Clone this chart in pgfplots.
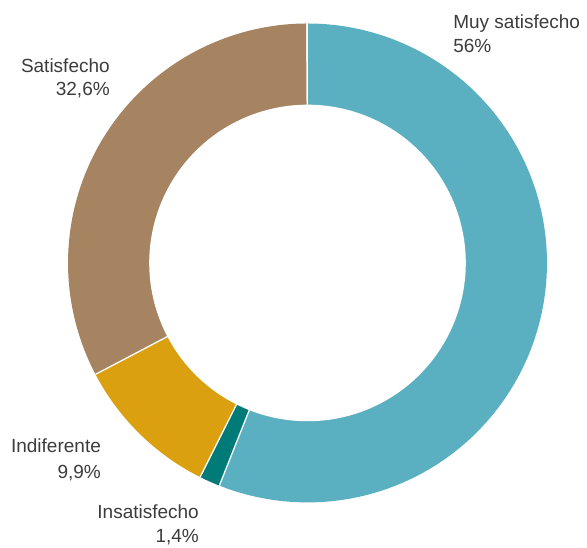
\documentclass[border=0pt]{standalone}
\usepackage{fontspec}
\setmainfont{Liberation Sans}
\usepackage{pgfplots}
\usepackage{pgfplotstable}
\pgfplotsset{compat=1.18}

\definecolor{muy}{HTML}{5AAFC1}
\definecolor{insat}{HTML}{017B78}
\definecolor{indif}{HTML}{DAA00F}
\definecolor{satis}{HTML}{A68461}
\definecolor{txt}{HTML}{3C3C3C}

% share of answers, clockwise from the top
\pgfplotstableread{
value color
56   muy
1.4  insat
9.9  indif
32.6 satis
}\slices

\begin{document}
\begin{tikzpicture}
  \begin{axis}[
    name=ax,
    width=587pt, height=547pt,
    scale only axis,
    hide axis,
    clip=false,
    xmin=-1.284, xmax=1.167,
    ymin=-1.186, ymax=1.098,
  ]
    % sectors
    \pgfmathsetmacro\cum{0}
    \pgfplotsforeachungrouped \i in {0,...,3} {
      \pgfplotstablegetelem{\i}{value}\of\slices
      \let\v=\pgfplotsretval
      \pgfplotstablegetelem{\i}{color}\of\slices
      \let\c=\pgfplotsretval
      \pgfmathsetmacro\aS{90-3.6*\cum}
      \pgfmathsetmacro\cum{\cum+\v}
      \pgfmathsetmacro\aE{90-3.6*\cum}
      \edef\tmp{\noexpand\addplot[fill=\c, draw=none, domain=\aE:\aS, samples=90]
        ({cos(x)},{sin(x)}) -- (axis cs:0,0) -- cycle;}
      \tmp
    }
    % white separators
    \pgfmathsetmacro\cum{0}
    \pgfplotsforeachungrouped \i in {0,...,3} {
      \pgfplotstablegetelem{\i}{value}\of\slices
      \let\v=\pgfplotsretval
      \pgfmathsetmacro\a{90-3.6*\cum}
      \pgfmathsetmacro\cx{cos(\a)}
      \pgfmathsetmacro\cy{sin(\a)}
      \edef\tmp{\noexpand\addplot[white, line width=1.3pt] coordinates {(0,0) (\cx,\cy)};}
      \tmp
      \pgfmathsetmacro\cum{\cum+\v}
    }
    % hole
    \addplot[fill=white, draw=none, domain=0:360, samples=180]
      ({0.661*cos(x)},{0.661*sin(x)}) -- cycle;

    \tikzset{lbl/.style={inner sep=0pt, text=txt, font=\fontsize{19}{24}\selectfont}}
    \node[lbl, anchor=base west] at (axis cs:0.608,0.981) {Muy satisfecho};
    \node[lbl, anchor=base west] at (axis cs:0.608,0.877) {56\%};
    \node[lbl, anchor=base east] at (axis cs:-0.825,0.797) {Satisfecho};
    \node[lbl, anchor=base east] at (axis cs:-0.825,0.701) {32,6\%};
    \node[lbl, anchor=base east] at (axis cs:-0.862,-0.793) {Indiferente};
    \node[lbl, anchor=base east] at (axis cs:-0.862,-0.898) {9,9\%};
    \node[lbl, anchor=base east] at (axis cs:-0.453,-1.065) {Insatisfecho};
    \node[lbl, anchor=base east] at (axis cs:-0.453,-1.169) {1,4\%};
  \end{axis}
  \pgfresetboundingbox
  \path (ax.south west) rectangle (ax.north east);
\end{tikzpicture}
\end{document}
